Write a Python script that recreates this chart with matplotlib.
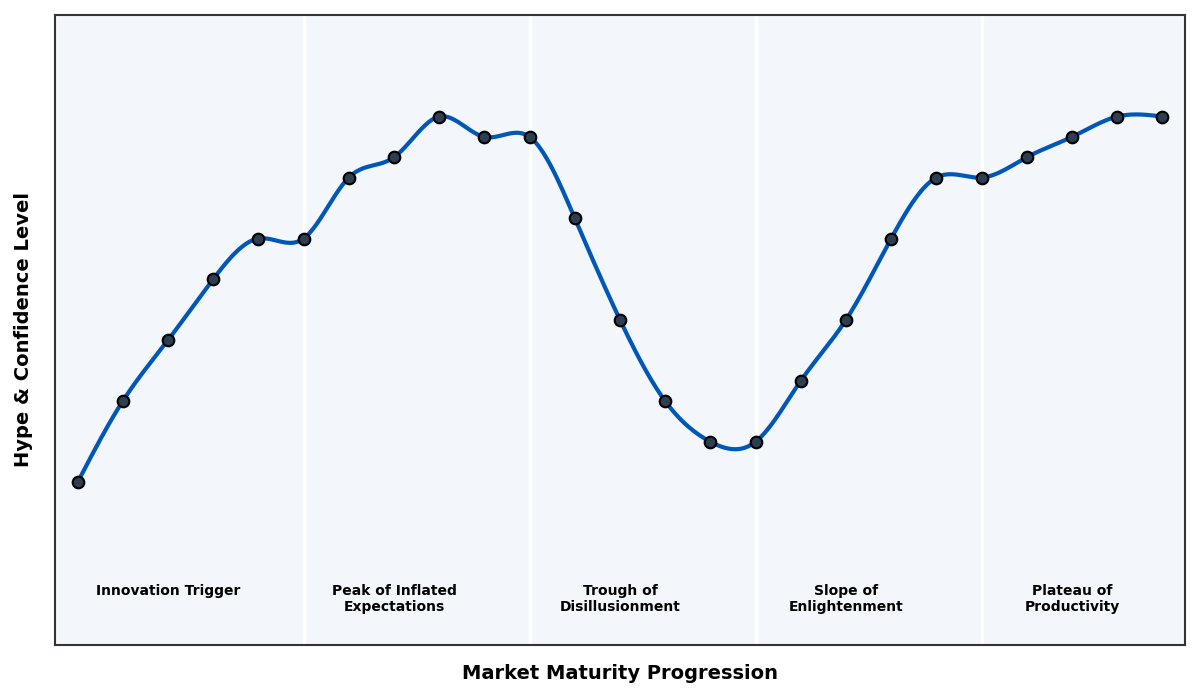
import numpy as np
import matplotlib
matplotlib.use("Agg")
import matplotlib.pyplot as plt

# data
stages = list(range(25))
hype = [10, 30, 45, 60, 70, 70, 85, 90, 100, 95, 95, 75, 50, 30, 20, 20,
        35, 50, 70, 85, 85, 90, 95, 100, 100]
phase_bounds = [5, 10, 15, 20]
phase_centers = [2, 7, 12, 17, 22]
phase_names = ["Innovation Trigger", "Peak of Inflated\nExpectations",
               "Trough of\nDisillusionment", "Slope of\nEnlightenment",
               "Plateau of\nProductivity"]


def natural_spline(x, y, xs):
    x = np.asarray(x, float)
    y = np.asarray(y, float)
    n = len(x)
    h = np.diff(x)
    A = np.zeros((n, n))
    b = np.zeros(n)
    A[0, 0] = 1
    A[-1, -1] = 1
    for i in range(1, n - 1):
        A[i, i - 1] = h[i - 1]
        A[i, i] = 2 * (h[i - 1] + h[i])
        A[i, i + 1] = h[i]
        b[i] = 6 * ((y[i + 1] - y[i]) / h[i] - (y[i] - y[i - 1]) / h[i - 1])
    M = np.linalg.solve(A, b)
    idx = np.clip(np.searchsorted(x, xs) - 1, 0, n - 2)
    x0, x1 = x[idx], x[idx + 1]
    hh = x1 - x0
    t0 = x1 - xs
    t1 = xs - x0
    return (M[idx] * t0**3 / (6 * hh) + M[idx + 1] * t1**3 / (6 * hh)
            + (y[idx] / hh - M[idx] * hh / 6) * t0
            + (y[idx + 1] / hh - M[idx + 1] * hh / 6) * t1)


fig = plt.figure(figsize=(12, 7), dpi=100)
ax = fig.add_axes([0.0458, 0.0786, 0.9417, 0.9])
ax.set_facecolor("#f3f6fa")

# phase dividers
for b in phase_bounds:
    ax.axvline(b, color="white", lw=2.5, zorder=1)

# smooth curve + points
xs = np.linspace(stages[0], stages[-1], 600)
ys = natural_spline(stages, hype, xs)
ax.plot(xs, ys, color="#0057b7", lw=3, zorder=2)
ax.scatter(stages, hype, s=70, color="#2c3e50", edgecolor="black",
           linewidth=1.5, zorder=3)

# phase labels
for cx, name in zip(phase_centers, phase_names):
    ax.text(cx, -15, name, ha="center", va="top", fontsize=10,
            fontweight="bold", color="black")

ax.set_xlim(-0.5, 24.5)
ax.set_ylim(-30, 125)
ax.set_xticks([])
ax.set_yticks([])
for sp in ax.spines.values():
    sp.set_color("#333333")
    sp.set_linewidth(1.5)

ax.set_xlabel("Market Maturity Progression", fontsize=14, fontweight="bold",
              labelpad=14)
ax.set_ylabel("Hype & Confidence Level", fontsize=14, fontweight="bold",
              labelpad=16)

fig.savefig("out.png", dpi=100)
